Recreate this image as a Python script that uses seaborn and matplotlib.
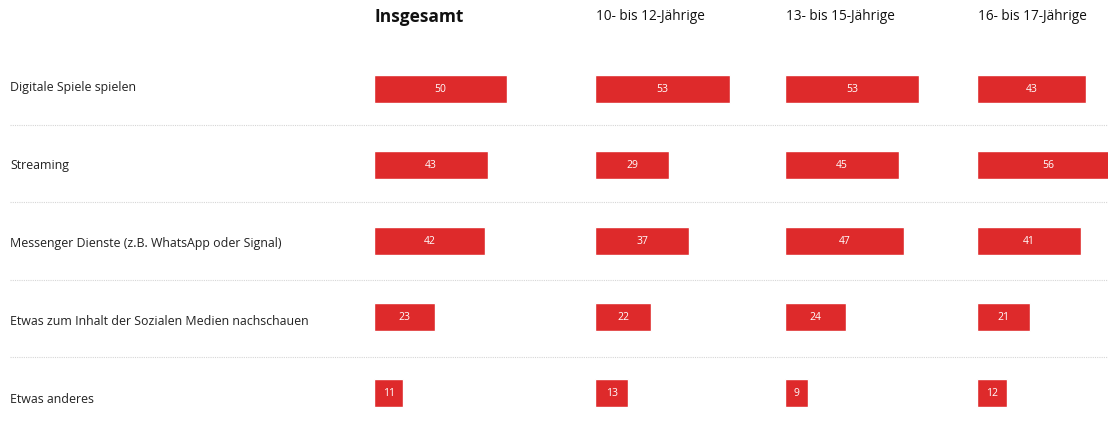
import pandas as pd
import seaborn as sns
import matplotlib.pyplot as plt

activities = ["Digitale Spiele spielen", "Streaming",
              "Messenger Dienste (z.B. WhatsApp oder Signal)",
              "Etwas zum Inhalt der Sozialen Medien nachschauen", "Etwas anderes"]
groups = ["Insgesamt", "10- bis 12-Jährige", "13- bis 15-Jährige", "16- bis 17-Jährige"]
insgesamt = [50, 43, 42, 23, 11]
age_10_12 = [53, 29, 37, 22, 13]
age_13_15 = [53, 45, 47, 24, 9]
age_16_17 = [43, 56, 41, 21, 12]

rows = []
for g, vals in zip(groups, [insgesamt, age_10_12, age_13_15, age_16_17]):
    for a, v in zip(activities, vals):
        rows.append({"group": g, "activity": a, "value": v})
df = pd.DataFrame(rows)

sns.set_style("white")
plt.rcParams['font.family'] = ['Open Sans', 'DejaVu Sans']

W, H = 1108, 434
fig = plt.figure(figsize=(W / 100, H / 100), dpi=100)
red = "#de2a2b"

y0, y1 = 51, 431  # pixel range of the bar rows

# background axis in pixel units for row labels and separators
bg = fig.add_axes([0, 0, 1, 1])
bg.set_xlim(0, W)
bg.set_ylim(H, 0)
bg.axis("off")
for i, a in enumerate(activities):
    bg.text(10, 87 + 78.2 * i, a, va="center", ha="left", fontsize=8.95, color="#222222")
for i in range(4):
    bg.hlines(125 + 77.3 * i, 10, W, colors="#d6d6d6", linestyles=(0, (1, 1)), linewidth=0.8)

# column axes: left pixel, right pixel, px per unit
cols = [(374, 595, 2.65), (595, 785, 2.55), (785, 977, 2.53), (977, 1108, 2.53)]
for g, (xl, xr, s) in zip(groups, cols):
    ax = fig.add_axes([xl / W, 1 - y1 / H, (xr - xl) / W, (y1 - y0) / H])
    sub = df[df["group"] == g]
    sns.barplot(data=sub, x="value", y="activity", order=activities, color=red,
                saturation=1, width=0.36, ax=ax, orient="h")
    ax.set_xlim(0, (xr - xl) / s)
    ax.set_ylim(4.5, -0.5)
    ax.axis("off")
    for i, v in enumerate(sub["value"]):
        ax.text(v / 2, i, str(v), ha="center", va="center", color="white", fontsize=7.5)
    fig.text((xl + 1) / W, 1 - 17 / H, g, ha="left", va="center",
             fontsize=12.5 if g == "Insgesamt" else 9.8,
             fontweight="bold" if g == "Insgesamt" else "normal", color="#111111")

fig.savefig("out.png", dpi=100)
